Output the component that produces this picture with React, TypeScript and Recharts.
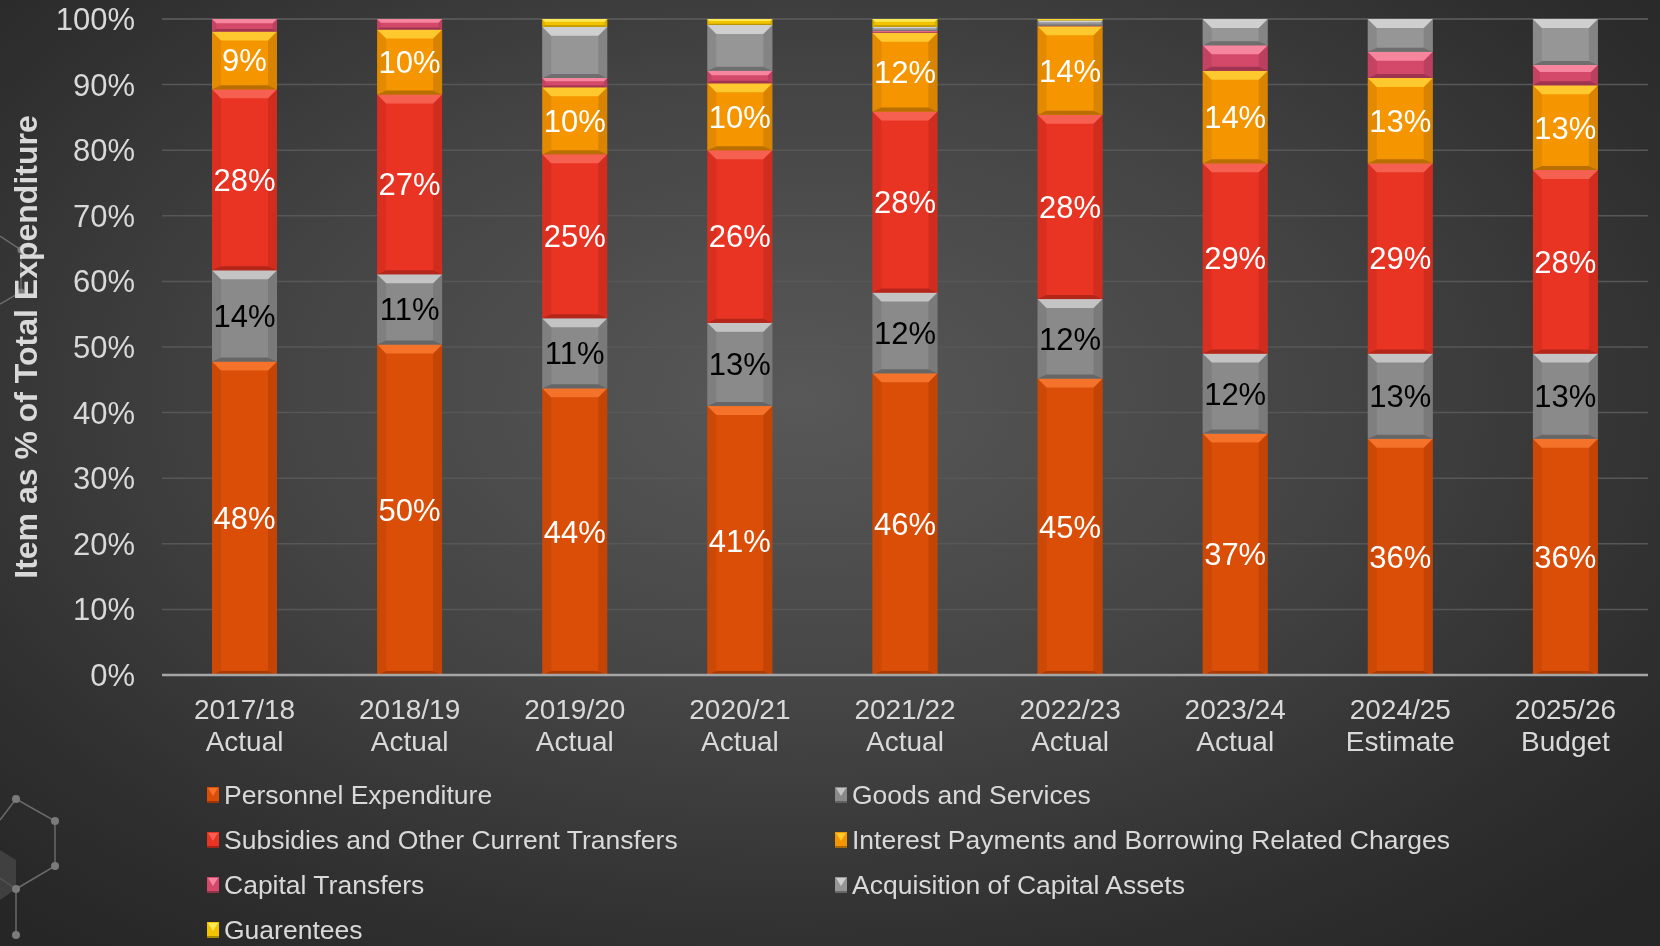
import { BarChart, Bar, XAxis, YAxis, CartesianGrid, LabelList } from "recharts";

const categories = ["2017/18", "2018/19", "2019/20", "2020/21", "2021/22", "2022/23", "2023/24", "2024/25", "2025/26"];
const periods = ["Actual", "Actual", "Actual", "Actual", "Actual", "Actual", "Actual", "Estimate", "Budget"];

const personnel = [47.8, 50.4, 43.7, 41.0, 46.0, 45.2, 36.8, 36.0, 36.0];
const goods = [13.9, 10.7, 10.7, 12.7, 12.3, 12.1, 12.2, 13.0, 13.0];
const subsidies = [27.6, 27.4, 25.0, 26.3, 27.6, 28.1, 29.0, 29.0, 28.0];
const interest = [8.8, 9.9, 10.2, 10.2, 12.0, 13.5, 14.1, 13.0, 12.9];
const capital = [1.9, 1.6, 1.4, 1.9, 0.3, 0.1, 3.9, 4.0, 3.1];
const acquisition = [0, 0, 7.8, 7.0, 0.6, 0.8, 4.0, 5.0, 7.0];
const guarantees = [0, 0, 1.2, 0.9, 1.2, 0.2, 0, 0, 0];

const yTicks = [0, 10, 20, 30, 40, 50, 60, 70, 80, 90, 100];

const FONT = "'Liberation Sans', Arial, sans-serif";
const TEXT = "#d9d9d9";

const series = [
  { key: "personnel", name: "Personnel Expenditure", base: "#da4e07", light: "#f4722a", dark: "#a83a05", label: "#ffffff" },
  { key: "goods", name: "Goods and Services", base: "#8a8a8a", light: "#c4c4c4", dark: "#666666", label: "#000000" },
  { key: "subsidies", name: "Subsidies and Other Current Transfers", base: "#e93424", light: "#f66050", dark: "#b3261a", label: "#ffffff" },
  { key: "interest", name: "Interest Payments and Borrowing Related Charges", base: "#f59500", light: "#fdc92e", dark: "#b86f00", label: "#ffffff" },
  { key: "capital", name: "Capital Transfers", base: "#d4486a", light: "#f5869e", dark: "#9e3550", label: null },
  { key: "acquisition", name: "Acquisition of Capital Assets", base: "#969696", light: "#cfcfcf", dark: "#6e6e6e", label: null },
  { key: "guarantees", name: "Guarentees", base: "#f2c400", light: "#ffea55", dark: "#b89400", label: null },
];

const data = categories.map((c, i) => ({
  name: c,
  period: periods[i],
  personnel: personnel[i],
  goods: goods[i],
  subsidies: subsidies[i],
  interest: interest[i],
  capital: capital[i],
  acquisition: acquisition[i],
  guarantees: guarantees[i],
}));

function BevelBar(props: any) {
  const { x, y, width: w, height: h, base, light, dark } = props;
  if (!h || h <= 0) return null;
  const b = Math.min(9, h * 0.35);
  const bb = Math.min(4, h * 0.2);
  const s = Math.min(b, w / 2);
  return (
    <g>
      <rect x={x} y={y} width={w} height={h} fill={base} />
      <polygon points={`${x},${y} ${x + s},${y + b} ${x + s},${y + h - bb} ${x},${y + h}`} fill={dark} opacity={0.3} />
      <polygon points={`${x + w},${y} ${x + w - s},${y + b} ${x + w - s},${y + h - bb} ${x + w},${y + h}`} fill={dark} opacity={0.45} />
      <polygon points={`${x},${y} ${x + w},${y} ${x + w - s},${y + b} ${x + s},${y + b}`} fill={light} />
      <polygon points={`${x},${y + h} ${x + w},${y + h} ${x + w - s},${y + h - bb} ${x + s},${y + h - bb}`} fill={dark} />
    </g>
  );
}

function XTick(props: any) {
  const { x, y, payload, index } = props;
  return (
    <text x={x} y={y} textAnchor="middle" fill={TEXT} fontSize={28} fontFamily={FONT}>
      <tspan x={x} dy={35.5}>{payload.value}</tspan>
      <tspan x={x} dy={32}>{periods[index]}</tspan>
    </text>
  );
}

function YLabel() {
  return (
    <text
      x={26}
      y={347}
      transform="rotate(-90, 26, 347)"
      textAnchor="middle"
      dominantBaseline="central"
      fill={TEXT}
      fontSize={32}
      fontWeight="bold"
      fontFamily={FONT}
    >
      Item as % of Total Expenditure
    </text>
  );
}

function LegendMarker({ base, light }: { base: string; light: string }) {
  return (
    <svg width={12} height={16} style={{ marginRight: 5, flex: "none" }}>
      <rect x={0} y={0} width={12} height={16} fill={base} />
      <polygon points="1,1 11,1 6,9" fill={light} />
      <rect x={0} y={14} width={12} height={2} fill="#000" opacity={0.3} />
    </svg>
  );
}

const legendRows = [
  [series[0], series[1]],
  [series[2], series[3]],
  [series[4], series[5]],
  [series[6], null],
];

function Decoration() {
  return (
    <svg width={80} height={946} style={{ position: "absolute", left: 0, top: 0 }}>
      <g stroke="#6a6a6a" strokeWidth={1.5} fill="none">
        <polyline points="0,236 21,250 21,292 0,304" />
        <polyline points="0,820 16,799 55,821 55,866 16,889 16,935" />
        <line x1={16} y1={889} x2={0} y2={878} />
      </g>
      <polygon points="0,850 16,860 16,889 0,900" fill="#4a4a4a" opacity={0.7} />
      <g fill="#7a7a7a">
        <circle cx={21} cy={250} r={3.5} />
        <circle cx={21} cy={292} r={3.5} />
        <circle cx={16} cy={799} r={4} />
        <circle cx={55} cy={821} r={4} />
        <circle cx={55} cy={866} r={4} />
        <circle cx={16} cy={889} r={4} />
        <circle cx={16} cy={935} r={4} />
      </g>
    </svg>
  );
}

export default function App() {
  return (
    <div
      style={{
        position: "fixed",
        left: 0,
        top: 0,
        width: 1660,
        height: 946,
        overflow: "hidden",
        fontFamily: FONT,
        background: "radial-gradient(ellipse 70% 75% at 48% 42%, #585858 0%, #444444 45%, #2f2f2f 80%, #262626 100%)",
      }}
    >
      <Decoration />
      <div style={{ position: "absolute", left: 0, top: 0 }}>
        <BarChart width={1660} height={946} data={data} margin={{ top: 19, right: 12, bottom: 0, left: 0 }} barSize={65}>
          <CartesianGrid vertical={false} stroke="#575757" strokeWidth={1.5} />
          <XAxis
            dataKey="name"
            height={271}
            interval={0}
            tick={<XTick />}
            tickLine={false}
            axisLine={{ stroke: "#a6a6a6", strokeWidth: 2.5 }}
          />
          <YAxis
            width={162}
            domain={[0, 100]}
            ticks={yTicks}
            tickFormatter={(v: number) => `${v}%`}
            tickSize={0}
            tickMargin={27}
            axisLine={false}
            tickLine={false}
            tick={{ fill: TEXT, fontSize: 31, fontFamily: FONT }}
            label={<YLabel />}
          />
          {series.map((s) => (
            <Bar
              key={s.key}
              dataKey={s.key}
              name={s.name}
              stackId="a"
              fill={s.base}
              isAnimationActive={false}
              shape={(p: any) => <BevelBar {...p} base={s.base} light={s.light} dark={s.dark} />}
            >
              {s.label && (
                <LabelList
                  dataKey={s.key}
                  position="center"
                  formatter={(v: any) => `${Math.round(Number(v))}%`}
                  fill={s.label}
                  fontSize={31}
                  fontFamily={FONT}
                />
              )}
            </Bar>
          ))}
        </BarChart>
      </div>
      <div style={{ position: "absolute", left: 207, top: 772, color: TEXT, fontSize: 26.5, lineHeight: "30px" }}>
        {legendRows.map((row, r) => (
          <div key={r} style={{ display: "flex", height: 45.2, alignItems: "center" }}>
            {row.map((s, c) =>
              s ? (
                <div key={c} style={{ display: "flex", alignItems: "center", width: c === 0 ? 628 : 800, whiteSpace: "nowrap" }}>
                  <LegendMarker base={s.base} light={s.light} />
                  <span>{s.name}</span>
                </div>
              ) : null
            )}
          </div>
        ))}
      </div>
    </div>
  );
}
